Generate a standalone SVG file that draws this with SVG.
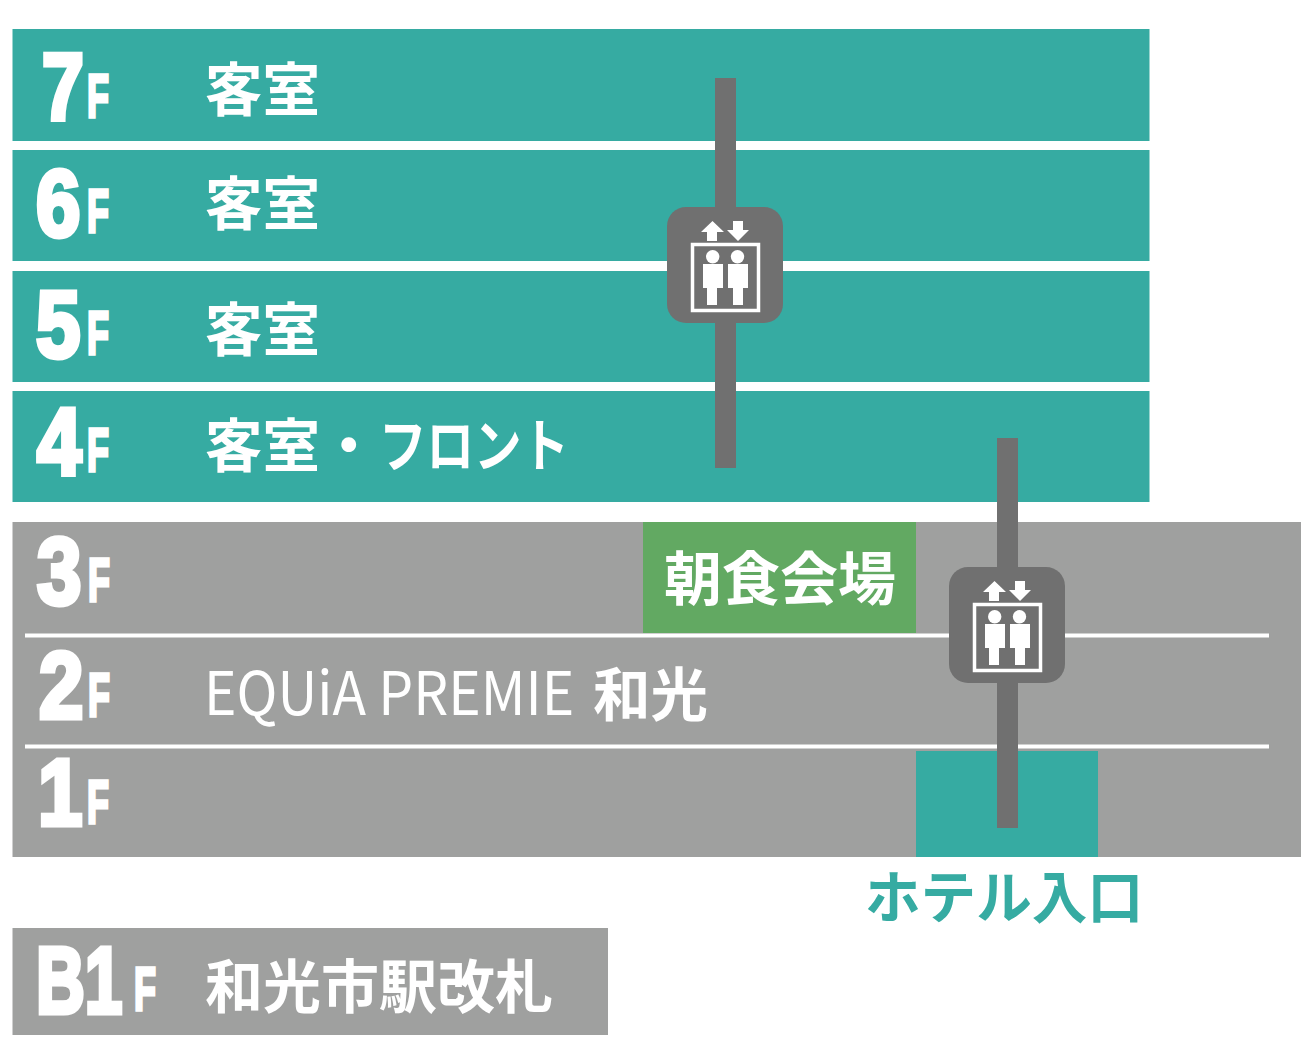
<svg xmlns="http://www.w3.org/2000/svg" width="1301" height="1064" viewBox="0 0 1301 1064">
<style>
.teal{fill:#36aba2}.grey{fill:#9fa09f}.rail,.box{fill:#707070}
text{font-family:"Noto Sans CJK JP","Liberation Sans",sans-serif;fill:#fff}
.lbl{font-size:57.5px;font-weight:700}
.num,.f{font-family:"Liberation Sans",sans-serif;font-weight:700;stroke:#fff}
.num{font-size:94px;stroke-width:5px}
.f{font-size:62px;stroke-width:3.500px}
.div{stroke:#fff;stroke-width:4px}
.w{fill:#fff}
</style>
<defs>
<g id="elev">
<rect class="box" x="667" y="207" width="116" height="116" rx="19"/>
<path class="w" d="M712.5 221L724 232H717V241H707V232H701ZM738 241L749 230H743V221H733V230H727Z"/>
<rect x="692.5" y="244.500" width="66" height="66" fill="none" stroke="#fff" stroke-width="3.500"/>
<circle class="w" cx="712.700" cy="256.700" r="6.700"/><circle class="w" cx="737.500" cy="256.700" r="6.700"/>
<path class="w" d="M703 264H723V288H717V305H707V288H703ZM728 264H748V288H743V305H733V288H728Z"/>
</g>
</defs>
<g id="floor-7"><rect class="teal" x="12.500" y="29" width="1137" height="112"/>
<text class="num" transform="translate(42 120) scale(.8 1)">7</text><text class="f" transform="translate(87 117) scale(.58 1)">F</text><text class="lbl" x="205" y="111">客室</text></g>
<g id="floor-6"><rect class="teal" x="12.500" y="150" width="1137" height="111"/>
<text class="num" transform="translate(36 236) scale(.85 1)">6</text><text class="f" transform="translate(87 232) scale(.58 1)">F</text><text class="lbl" x="205" y="225">客室</text></g>
<g id="floor-5"><rect class="teal" x="12.500" y="271" width="1137" height="111"/>
<text class="num" transform="translate(36 357) scale(.85 1)">5</text><text class="f" transform="translate(87 354) scale(.58 1)">F</text><text class="lbl" x="205" y="351">客室</text></g>
<g id="floor-4"><rect class="teal" x="12.500" y="391" width="1137" height="111"/>
<text class="num" transform="translate(37 474) scale(.85 1)">4</text><text class="f" transform="translate(87 471) scale(.58 1)">F</text><text class="lbl" x="205" y="467">客室・</text><text class="lbl" x="379" y="467" textLength="190" lengthAdjust="spacingAndGlyphs">フロント</text></g>
<g id="floor-1-3"><rect class="grey" x="12.500" y="522" width="1289" height="335"/>
<rect id="breakfast-bg" x="643" y="522" width="273" height="111" fill="#62a962"/>
<rect id="entrance-bg" class="teal" x="916" y="751" width="182" height="106"/>
<path class="div" d="M25 635.500H1269M25 746.500H1269"/>
<text class="num" transform="translate(37 604) scale(.85 1)">3</text><text class="f" transform="translate(88 601) scale(.58 1)">F</text>
<text class="num" transform="translate(39 718) scale(.85 1)">2</text><text class="f" transform="translate(88 716) scale(.58 1)">F</text>
<text class="num" transform="translate(38 825) scale(.85 1)">1</text><text class="f" transform="translate(87 823) scale(.58 1)">F</text>
<text font-size="60" transform="translate(204 715) scale(.92 1)">EQUiA PREMIE</text>
<text class="lbl" x="593" y="716">和光</text>
<text class="lbl" x="664" y="600" style="font-size:58px">朝食会場</text></g>
<g id="connectors"><rect class="rail" x="715" y="78" width="21" height="390"/><rect class="rail" x="997" y="438" width="21" height="390"/></g>
<g id="elevator-1"><use href="#elev"/></g>
<g id="elevator-2"><use href="#elev" x="282" y="360"/></g>
<g id="entrance-label"><text x="865" y="918" style="font-size:57px;font-weight:700;fill:#36aba2" textLength="278" lengthAdjust="spacingAndGlyphs">ホテル入口</text></g>
<g id="floor-b1"><rect class="grey" x="12.500" y="928" width="595.500" height="107"/>
<text class="num" transform="translate(36 1013) scale(.72 1)">B1</text><text class="f" transform="translate(134 1010) scale(.58 1)">F</text>
<text class="lbl" x="205" y="1008" style="font-size:58px">和光市駅改札</text></g>
</svg>
